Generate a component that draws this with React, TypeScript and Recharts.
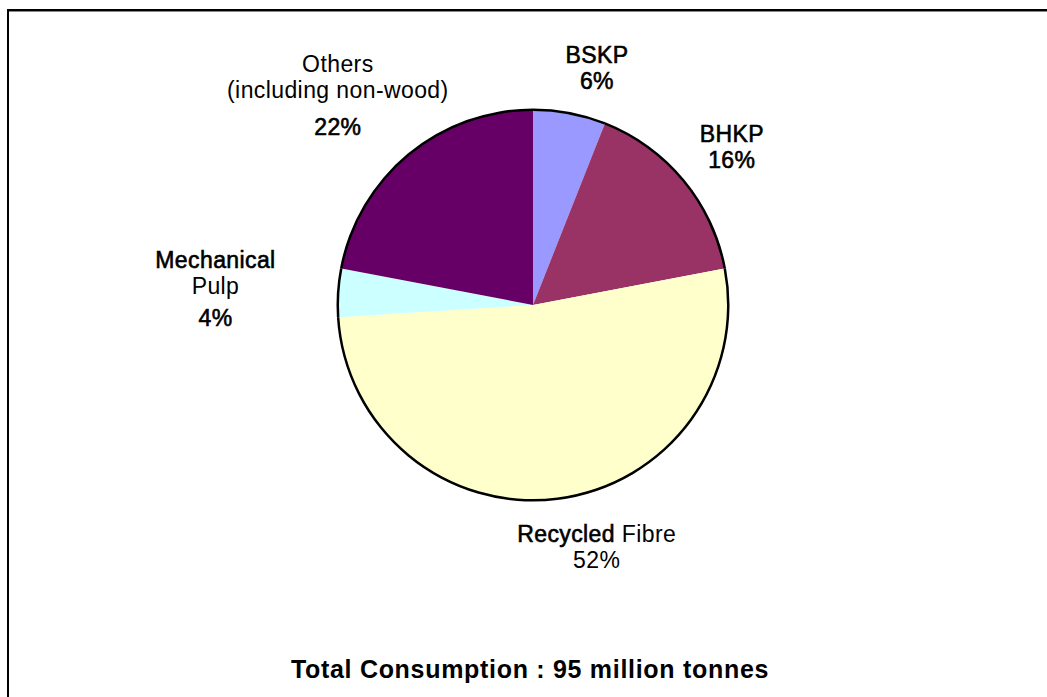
import { Cell, Pie, PieChart } from "recharts";

const categories = ["BSKP", "BHKP", "Recycled Fibre", "Mechanical Pulp", "Others (including non-wood)"];
const shares = [6, 16, 52, 4, 22];
const labelLines = [["BSKP"], ["BHKP"], ["Recycled Fibre"], ["Mechanical", "Pulp"], ["Others", "(including non-wood)"]];
const sliceColors = ["#9999FF", "#993366", "#FFFFCC", "#CCFFFF", "#660066"];
const totalText = "Total Consumption : 95 million tonnes";

const data = categories.map((name, i) => ({ name, value: shares[i] }));

const FONT = '"Liberation Sans", Arial, sans-serif';
const RAD = Math.PI / 180;
const LINE_H = 26;

// hand tuned label placement, relative to a point 50px outside the rim
const nudges = [
  { dx: 18, dy: 4, pctGap: 0 },
  { dx: 10, dy: -2, pctGap: 0 },
  { dx: 33, dy: -1, pctGap: 0 },
  { dx: -73, dy: -1, pctGap: 6 },
  { dx: -39, dy: -21, pctGap: 11 },
];
const heavy = new Set(["BSKP", "BHKP", "Mechanical", "Recycled", "6%", "16%", "22%", "4%"]);

function Word({ text }: { text: string }) {
  const isHeavy = heavy.has(text);
  return (
    <tspan stroke={isHeavy ? "#000" : "none"} strokeWidth={isHeavy ? 0.6 : 0}>
      {text}
    </tspan>
  );
}

function renderLabel(props: any) {
  const { cx, cy, midAngle, outerRadius, index, value } = props;
  const r = outerRadius + 50;
  const n = nudges[index];
  const x = cx + r * Math.cos(-midAngle * RAD) + n.dx;
  const y = cy + r * Math.sin(-midAngle * RAD) + n.dy;
  const lines = [...labelLines[index], `${value}%`];
  const blockH = (lines.length - 1) * LINE_H + n.pctGap;
  const top = y - blockH / 2;
  return (
    <text
      key={`lbl-${index}`}
      x={x}
      y={top}
      fill="#000"
      fontFamily={FONT}
      fontSize={23}
      letterSpacing={0.4}
      textAnchor="middle"
      dominantBaseline="central"
    >
      {lines.map((line, i) => {
        const ly = top + i * LINE_H + (i === lines.length - 1 ? n.pctGap : 0);
        const words = line.split(" ");
        return (
          <tspan key={i} x={x} y={ly}>
            {words.map((w, j) => (
              <tspan key={j}>
                <Word text={w} />
                {j < words.length - 1 ? " " : ""}
              </tspan>
            ))}
          </tspan>
        );
      })}
    </text>
  );
}

export default function App() {
  return (
    <div style={{ position: "absolute", left: 0, top: 0, width: 1047, height: 697, background: "#fff" }}>
      <div
        style={{
          position: "absolute",
          left: 7,
          top: 9,
          width: 1040,
          height: 688,
          boxSizing: "border-box",
          borderTop: "2px solid #000",
          borderLeft: "2px solid #000",
          boxShadow: "inset 0 1px 0 #888",
        }}
      />
      <div style={{ position: "absolute", left: 0, top: 0 }}>
        <PieChart width={1047} height={697} margin={{ top: 0, right: 0, bottom: 0, left: 0 }}>
          <Pie
            data={data}
            dataKey="value"
            nameKey="name"
            cx={533}
            cy={305}
            outerRadius={195}
            startAngle={90}
            endAngle={-270}
            stroke="none"
            label={renderLabel}
            labelLine={false}
            isAnimationActive={false}
          >
            {data.map((d, i) => (
              <Cell key={d.name} fill={sliceColors[i]} />
            ))}
          </Pie>
          <Pie
            data={data}
            dataKey="value"
            cx={533}
            cy={305}
            innerRadius={194}
            outerRadius={196.5}
            startAngle={90}
            endAngle={-270}
            fill="#000"
            stroke="none"
            isAnimationActive={false}
          />
        </PieChart>
      </div>
      <div
        style={{
          position: "absolute",
          left: 0,
          width: 1060,
          top: 654,
          textAlign: "center",
          fontFamily: FONT,
          fontWeight: "bold",
          fontSize: 25,
          letterSpacing: 0.7,
          lineHeight: "30px",
          color: "#000",
        }}
      >
        {totalText}
      </div>
    </div>
  );
}
